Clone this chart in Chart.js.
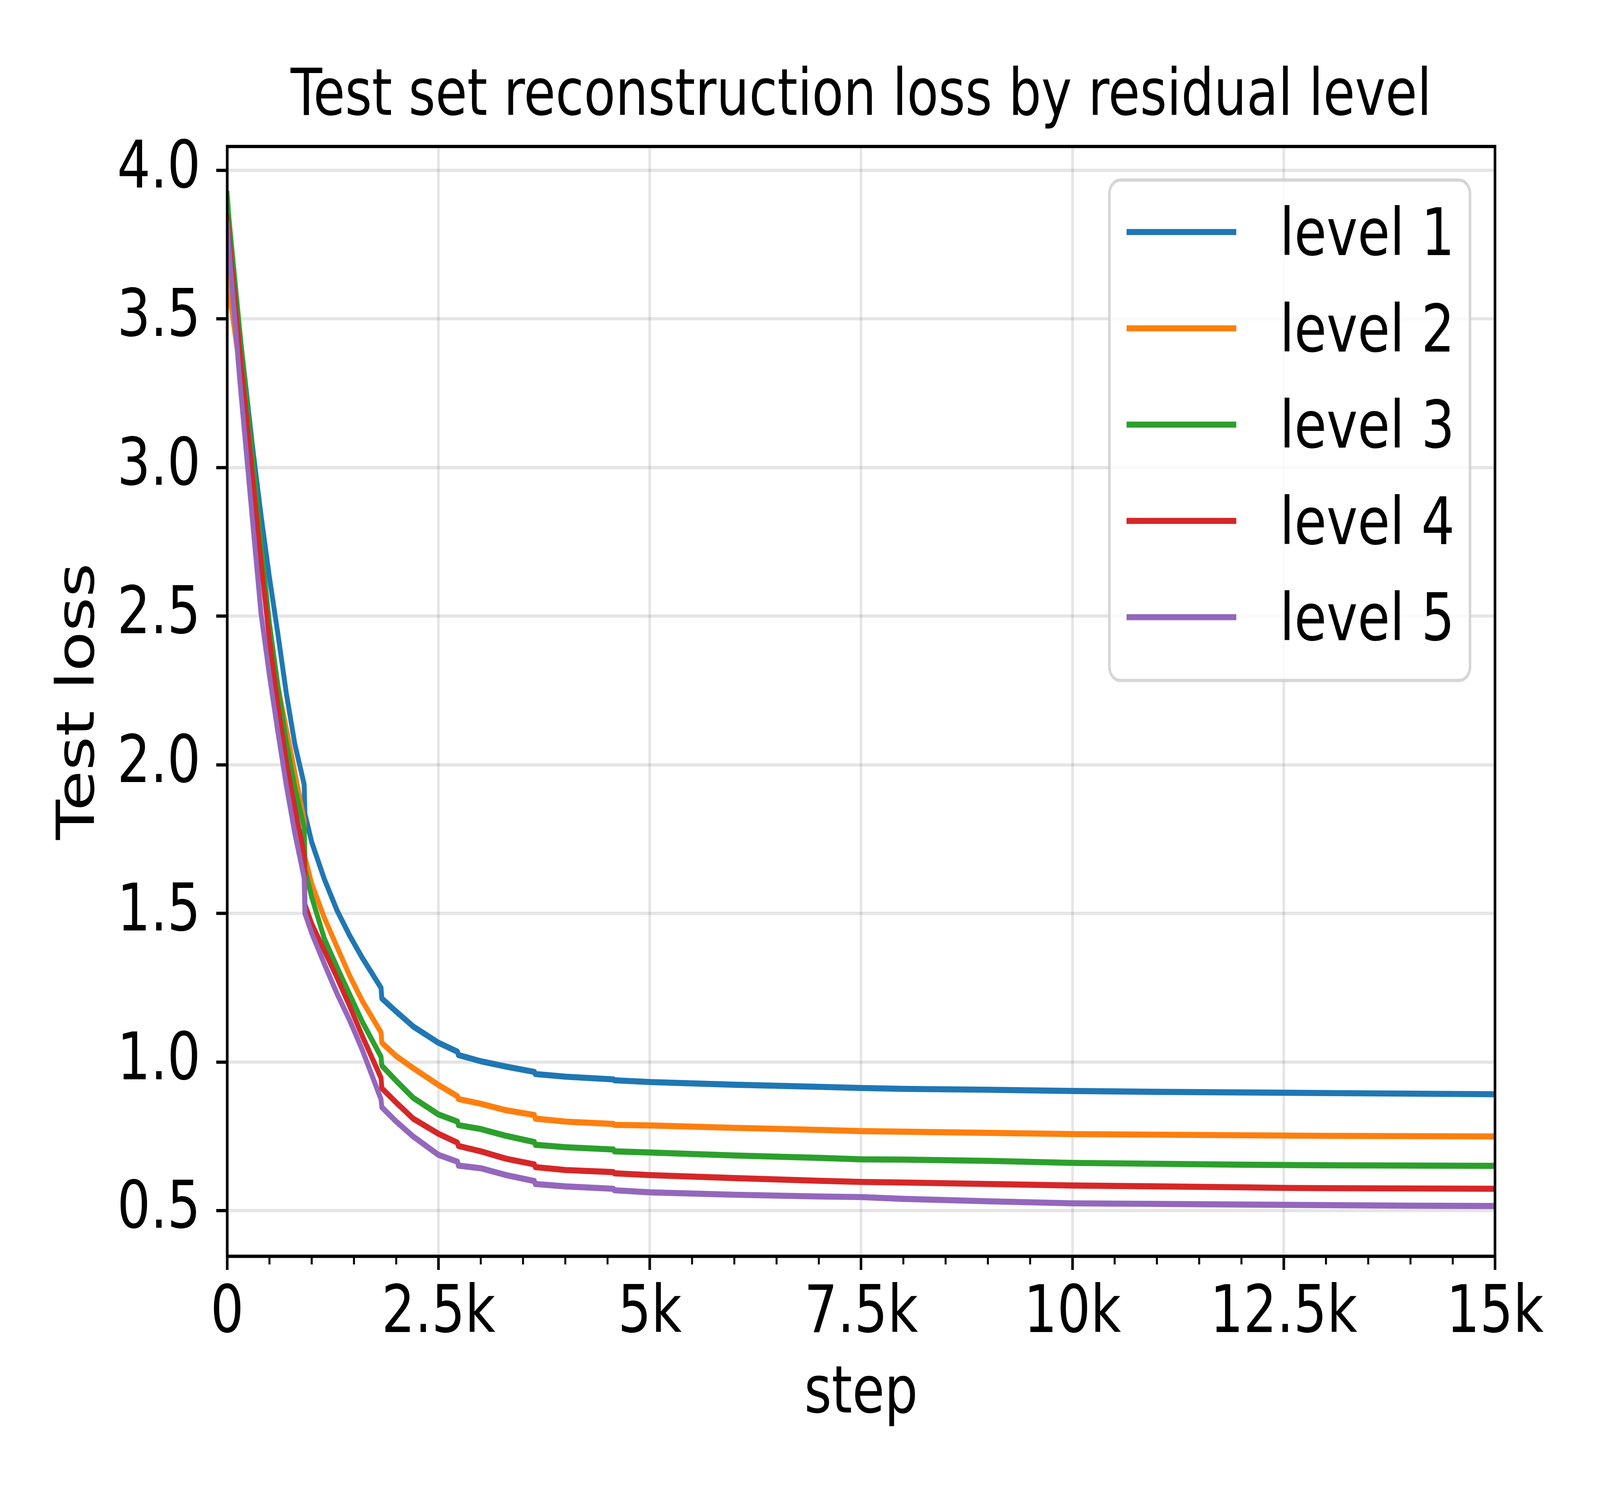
<!DOCTYPE html>
<html>
<head>
<meta charset="utf-8">
<title>Test set reconstruction loss by residual level</title>
<script src="https://cdn.jsdelivr.net/npm/chart.js@4.4.1/dist/chart.umd.min.js"></script>
<style>
  html, body { margin: 0; padding: 0; background: #fff; overflow: hidden; }
  canvas { display: block; }
</style>
</head>
<body>
<!-- drawn at 5120x3840, shown over the whole window -->
<canvas id="lossChart" width="5120" height="3840" style="width:100vw;height:100vh"></canvas>
<script>
// training steps where the test loss was evaluated (pairs = jump at epoch boundary)
const steps = [0, 20, 150, 300, 400, 500, 600, 700, 800, 910, 920, 1000, 1150, 1300, 1450, 1600,
  1820, 1830, 2000, 2200, 2500, 2725, 2735, 3000, 3300, 3635, 3645, 4000, 4570, 4580,
  5000, 6000, 7000, 7500, 8000, 9000, 10000, 11000, 12000, 12500, 13000, 14000, 15000];

const level1 = [3.88, 3.82, 3.45, 3.07, 2.84, 2.63, 2.44, 2.24, 2.07, 1.935, 1.835, 1.74, 1.615, 1.51, 1.425, 1.35,
  1.25, 1.214, 1.17, 1.12, 1.065, 1.035, 1.024, 1.003, 0.985, 0.967, 0.96, 0.951, 0.942, 0.939,
  0.933, 0.924, 0.917, 0.913, 0.91, 0.907, 0.903, 0.9, 0.898, 0.897, 0.896, 0.894, 0.892];
const level2 = [3.66, 3.60, 3.33, 2.98, 2.73, 2.46, 2.265, 2.12, 1.975, 1.815, 1.69, 1.60, 1.485, 1.387, 1.29, 1.205,
  1.10, 1.065, 1.02, 0.98, 0.923, 0.885, 0.876, 0.86, 0.838, 0.822, 0.81, 0.80, 0.792, 0.789,
  0.787, 0.779, 0.772, 0.768, 0.766, 0.762, 0.758, 0.756, 0.754, 0.753, 0.752, 0.751, 0.75];
const level3 = [3.92, 3.84, 3.455, 3.03, 2.745, 2.475, 2.265, 2.076, 1.925, 1.79, 1.65, 1.555, 1.415, 1.319, 1.227, 1.135,
  1.018, 0.988, 0.937, 0.88, 0.824, 0.80, 0.788, 0.775, 0.752, 0.731, 0.722, 0.714, 0.706, 0.70,
  0.696, 0.686, 0.678, 0.673, 0.672, 0.668, 0.661, 0.658, 0.655, 0.654, 0.653, 0.652, 0.651];
const level4 = [3.844, 3.78, 3.39, 2.97, 2.68, 2.42, 2.20, 2.01, 1.855, 1.70, 1.53, 1.465, 1.375, 1.284, 1.188, 1.087,
  0.947, 0.912, 0.864, 0.81, 0.759, 0.729, 0.718, 0.70, 0.675, 0.656, 0.647, 0.637, 0.63, 0.626,
  0.62, 0.61, 0.601, 0.597, 0.595, 0.59, 0.585, 0.582, 0.579, 0.577, 0.576, 0.575, 0.574];
const level5 = [3.818, 3.74, 3.29, 2.82, 2.51, 2.30, 2.11, 1.93, 1.77, 1.62, 1.50, 1.434, 1.33, 1.23, 1.14, 1.04,
  0.875, 0.848, 0.80, 0.75, 0.688, 0.665, 0.652, 0.643, 0.62, 0.60, 0.59, 0.582, 0.574, 0.569,
  0.562, 0.554, 0.548, 0.546, 0.54, 0.532, 0.525, 0.523, 0.521, 0.52, 0.519, 0.517, 0.516];

const seriesNames = ["level 1", "level 2", "level 3", "level 4", "level 5"];
const seriesValues = [level1, level2, level3, level4, level5];

const xTicks = [0, 2500, 5000, 7500, 10000, 12500, 15000];
const xTickLabels = ["0", "2.5k", "5k", "7.5k", "10k", "12.5k", "15k"];
const yTicks = [0.5, 1.0, 1.5, 2.0, 2.5, 3.0, 3.5, 4.0];

// styles
const colors = ["#1f77b4", "#ff7f0e", "#2ca02c", "#d62728", "#9467bd"];
const FONT = "'DejaVu Sans', sans-serif";
const LW = 15.6;
const SPINE = 8.3;

const datasets = seriesNames.map((name, i) => ({
  label: name,
  data: steps.map((s, j) => ({ x: s, y: seriesValues[i][j] })),
  borderColor: colors[i],
  backgroundColor: colors[i],
  borderWidth: LW,
  pointRadius: 0,
  tension: 0,
  fill: false,
  borderJoinStyle: "round",
  borderCapStyle: "square",
  clip: 0,
  order: seriesNames.length - i,
}));

// spines on all 4 sides, minor x ticks, legend box inside the axes
const framePlugin = {
  id: "frame",
  afterDatasetsDraw(chart) {
    const { ctx, chartArea: a, scales } = chart;
    ctx.save();
    ctx.strokeStyle = "#000";
    ctx.lineWidth = SPINE;
    ctx.lineJoin = "miter";
    ctx.strokeRect(a.left, a.top, a.right - a.left, a.bottom - a.top);

    ctx.lineWidth = 6.25;
    ctx.lineCap = "butt";
    for (let v = 500; v < 15000; v += 500) {
      if (v % 2500 === 0) continue;
      const px = scales.x.getPixelForValue(v);
      ctx.beginPath();
      ctx.moveTo(px, a.bottom);
      ctx.lineTo(px, a.bottom + 21);
      ctx.stroke();
    }

    const bw = 1154, bh = 1281;
    const bx = a.right - 80 - bw, by = a.top + 86;
    ctx.beginPath();
    ctx.roundRect(bx, by, bw, bh, 35);
    ctx.fillStyle = "rgba(255,255,255,0.8)";
    ctx.fill();
    ctx.strokeStyle = "rgba(204,204,204,0.8)";
    ctx.lineWidth = SPINE;
    ctx.stroke();

    chart.data.datasets.forEach((ds, i) => {
      const cy = by + 133 + i * 246.5;
      ctx.strokeStyle = ds.borderColor;
      ctx.lineWidth = LW;
      ctx.beginPath();
      ctx.moveTo(bx + 55, cy);
      ctx.lineTo(bx + 406, cy);
      ctx.stroke();
      ctx.fillStyle = "#000";
      ctx.font = "168px " + FONT;
      ctx.textAlign = "left";
      ctx.textBaseline = "alphabetic";
      ctx.fillText(ds.label, bx + 545, cy + 59);
    });
    ctx.restore();
  },
};

const tickFont = { family: FONT, size: 168 };

new Chart(document.getElementById("lossChart"), {
  type: "line",
  data: { datasets },
  options: {
    responsive: false,
    devicePixelRatio: 1,
    animation: false,
    layout: { padding: { left: 0, right: 336, top: 0, bottom: 0 } },
    plugins: {
      legend: { display: false },
      tooltip: { enabled: false },
      title: {
        display: true,
        text: "Test set reconstruction loss by residual level",
        color: "#000",
        font: { family: FONT, size: 165, weight: "normal" },
        padding: { top: 152, bottom: 25 },
        fullSize: false,
      },
    },
    scales: {
      x: {
        type: "linear",
        min: 0,
        max: 15000,
        afterBuildTicks: (s) => { s.ticks = xTicks.map((v) => ({ value: v })); },
        afterFit: (s) => { s.height = 624; },
        ticks: {
          callback: (v, i) => xTickLabels[i],
          font: tickFont,
          color: "#000",
          padding: 15,
          maxRotation: 0,
          autoSkip: false,
        },
        grid: {
          color: "rgba(0,0,0,0.1)",
          lineWidth: SPINE,
          tickColor: "#000",
          tickWidth: SPINE,
          tickLength: 35,
        },
        border: { display: true, color: "#000", width: SPINE },
        title: {
          display: true,
          text: "step",
          color: "#000",
          font: tickFont,
          padding: { top: 0, bottom: 167 },
        },
      },
      y: {
        type: "linear",
        min: 0.347,
        max: 4.08,
        afterBuildTicks: (s) => { s.ticks = yTicks.map((v) => ({ value: v })); },
        afterFit: (s) => { s.width = 727; },
        ticks: {
          callback: (v) => v.toFixed(1),
          font: tickFont,
          color: "#000",
          padding: 50,
          autoSkip: false,
        },
        grid: {
          color: "rgba(0,0,0,0.1)",
          lineWidth: SPINE,
          tickColor: "#000",
          tickWidth: SPINE,
          tickLength: 35,
        },
        border: { display: true, color: "#000", width: SPINE },
        title: {
          display: true,
          text: "Test loss",
          color: "#000",
          font: tickFont,
          padding: { top: 156, bottom: 0 },
        },
      },
    },
  },
  plugins: [framePlugin],
});
</script>
</body>
</html>
